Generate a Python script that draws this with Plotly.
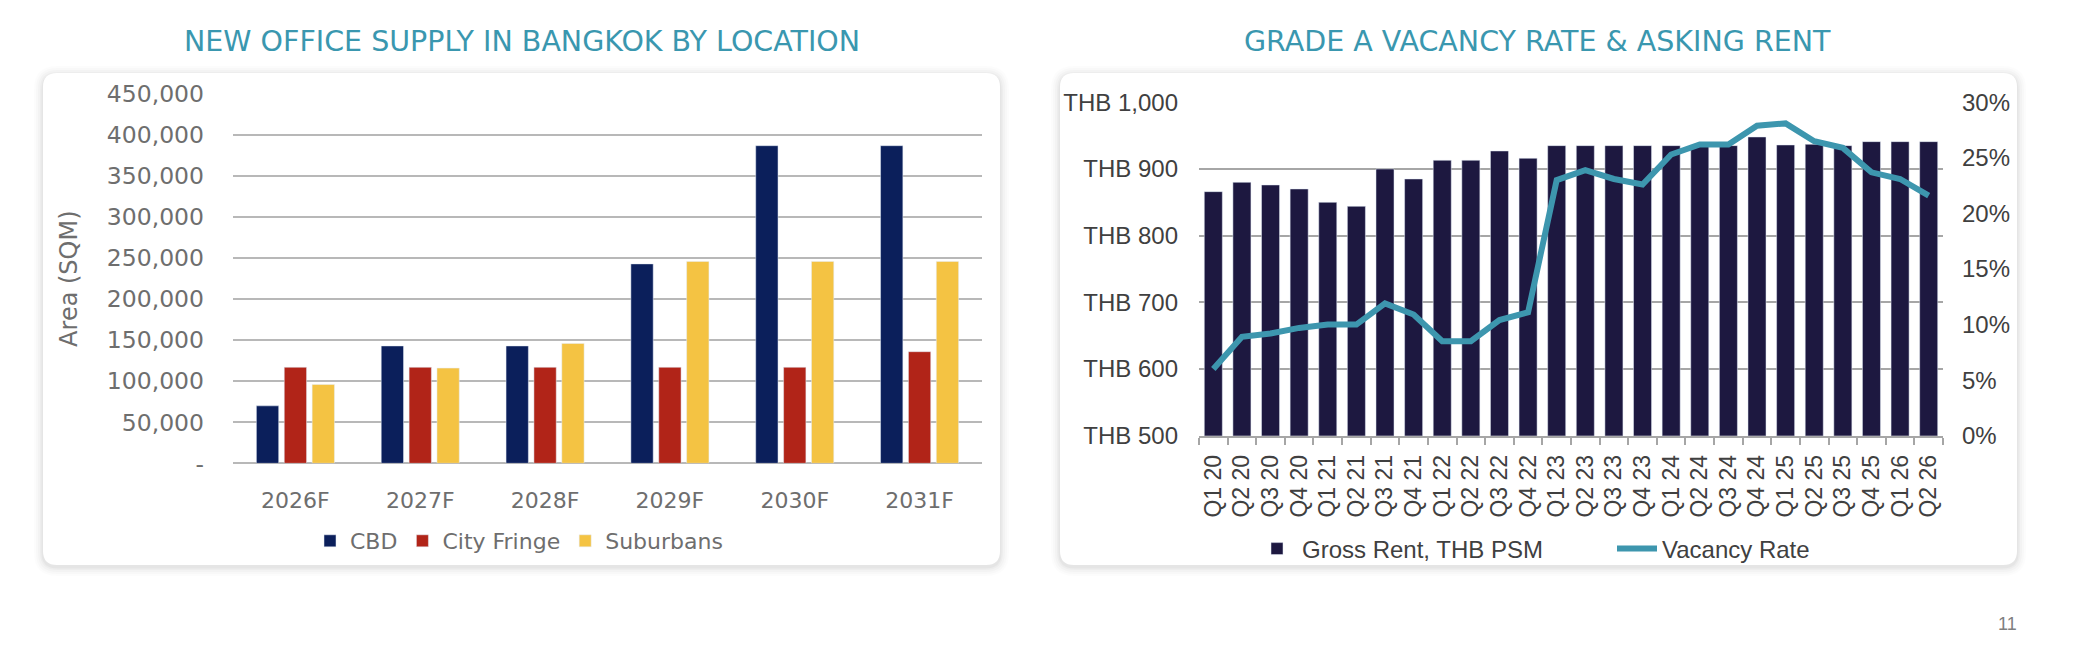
import plotly.graph_objects as go

W, H = 2074, 656

# ---------------- data ----------------
years = ["2026F", "2027F", "2028F", "2029F", "2030F", "2031F"]
cbd = [70000, 143000, 143000, 243000, 387000, 387000]
city_fringe = [117000, 117000, 117000, 117000, 117000, 136000]
suburbans = [96000, 116000, 146000, 246000, 246000, 246000]

supply_ticks = [0, 50000, 100000, 150000, 200000, 250000, 300000, 350000, 400000, 450000]
supply_ticktext = ["-", "50,000", "100,000", "150,000", "200,000", "250,000",
                   "300,000", "350,000", "400,000", "450,000"]

quarters = ["Q1 20", "Q2 20", "Q3 20", "Q4 20", "Q1 21", "Q2 21", "Q3 21", "Q4 21",
            "Q1 22", "Q2 22", "Q3 22", "Q4 22", "Q1 23", "Q2 23", "Q3 23", "Q4 23",
            "Q1 24", "Q2 24", "Q3 24", "Q4 24", "Q1 25", "Q2 25", "Q3 25", "Q4 25",
            "Q1 26", "Q2 26"]
gross_rent = [866, 880, 876, 870, 850, 844, 900, 885, 913, 913, 927, 916,
              935, 935, 935, 935, 935, 935, 935, 948, 936, 937, 935, 941, 941, 941]
vacancy_rate = [0.060, 0.089, 0.092, 0.097, 0.100, 0.100, 0.119, 0.109, 0.085, 0.085,
                0.104, 0.111, 0.230, 0.239, 0.231, 0.226, 0.253, 0.262, 0.262, 0.279,
                0.281, 0.265, 0.259, 0.237, 0.231, 0.216]

rent_ticks = [500, 600, 700, 800, 900, 1000]
rent_ticktext = ["THB 500", "THB 600", "THB 700", "THB 800", "THB 900", "THB 1,000"]
vac_ticks = [0, 0.05, 0.10, 0.15, 0.20, 0.25, 0.30]
vac_ticktext = ["0%", "5%", "10%", "15%", "20%", "25%", "30%"]

# ---------------- helpers ----------------
def fx(x):
    return x / W

def fy(y):
    return 1 - y / H

def rounded_path(x0, y0, x1, y1, r):
    rx, ry = r / W, r / H
    X0, X1 = fx(x0), fx(x1)
    Y0, Y1 = fy(y0), fy(y1)  # Y0 top, Y1 bottom
    return (f"M {X0+rx},{Y0} L {X1-rx},{Y0} Q {X1},{Y0} {X1},{Y0-ry} "
            f"L {X1},{Y1+ry} Q {X1},{Y1} {X1-rx},{Y1} "
            f"L {X0+rx},{Y1} Q {X0},{Y1} {X0},{Y1+ry} "
            f"L {X0},{Y0-ry} Q {X0},{Y0} {X0+rx},{Y0} Z")

LEFT_FONT = "DejaVu Sans"
RIGHT_FONT = "Liberation Sans, Arial"
GRAY_L = "#6E6E6E"
GRAY_R = "#404040"
TEAL = "#3A97AF"

fig = go.Figure()

# ---------------- left chart ----------------
fig.add_trace(go.Bar(x=years, y=cbd, name="CBD", marker_color="#0B1F5B",
                     xaxis="x", yaxis="y", legend="legend"))
fig.add_trace(go.Bar(x=years, y=city_fringe, name="City Fringe", marker_color="#B12418",
                     xaxis="x", yaxis="y", legend="legend"))
fig.add_trace(go.Bar(x=years, y=suburbans, name="Suburbans", marker_color="#F4C343",
                     xaxis="x", yaxis="y", legend="legend"))

# ---------------- right chart ----------------
fig.add_trace(go.Bar(x=quarters, y=gross_rent, name="Gross Rent, THB PSM",
                     marker_color="#1D1840", xaxis="x2", yaxis="y2", legend="legend2",
                     width=0.63))
fig.add_trace(go.Scatter(x=quarters, y=vacancy_rate, name="Vacancy Rate", mode="lines",
                         line=dict(color="#3D96AE", width=6), xaxis="x2", yaxis="y3",
                         legend="legend2"))

# ---------------- cards ----------------
shapes = []
for (x0, y0, x1, y1) in [(43, 73, 1000, 565), (1060, 73, 2017, 565)]:
    for k, a in [(9, 0.012), (7, 0.014), (5, 0.018), (3, 0.022), (1.5, 0.03)]:
        shapes.append(dict(type="path", xref="paper", yref="paper", layer="below",
                           path=rounded_path(x0 - k, y0 - k + 2, x1 + k, y1 + k + 2, 14 + k),
                           fillcolor=f"rgba(0,0,0,{a})", line=dict(width=0)))
    shapes.append(dict(type="path", xref="paper", yref="paper", layer="below",
                       path=rounded_path(x0, y0, x1, y1, 14),
                       fillcolor="#FFFFFF", line=dict(width=0)))

annotations = [
    dict(text="NEW OFFICE SUPPLY IN BANGKOK BY LOCATION", x=fx(522), y=fy(41),
         xref="paper", yref="paper", showarrow=False, xanchor="center", yanchor="middle",
         font=dict(family=LEFT_FONT, size=28.5, color=TEAL)),
    dict(text="GRADE A VACANCY RATE & ASKING RENT", x=fx(1537), y=fy(41),
         xref="paper", yref="paper", showarrow=False, xanchor="center", yanchor="middle",
         font=dict(family=LEFT_FONT, size=28.5, color=TEAL)),
    dict(text="11", x=fx(2007), y=fy(624), xref="paper", yref="paper", showarrow=False,
         xanchor="center", yanchor="middle",
         font=dict(family="Liberation Sans Narrow, Liberation Sans", size=18, color="#7F7F7F")),
]

fig.update_layout(
    width=W, height=H,
    autosize=False,
    margin=dict(l=0, r=0, t=0, b=0, pad=0, autoexpand=False),
    paper_bgcolor="#FFFFFF",
    plot_bgcolor="rgba(0,0,0,0)",
    barmode="group",
    bargap=0.33,
    bargroupgap=0.2,
    shapes=shapes,
    annotations=annotations,
    xaxis=dict(domain=[fx(233), fx(982)], anchor="y", type="category", automargin=False,
               showgrid=False, showline=False, ticks="", zeroline=False,
               tickfont=dict(family=LEFT_FONT, size=22, color=GRAY_L),
               ticklabelstandoff=22),
    yaxis=dict(domain=[fy(463.3), fy(94)], anchor="x", range=[0, 450000], automargin=False,
               tickvals=supply_ticks, ticktext=supply_ticktext,
               showgrid=True, gridcolor="#B8B8B8", gridwidth=2,
               zeroline=True, zerolinecolor="#B8B8B8", zerolinewidth=2,
               showline=False, ticks="",
               tickfont=dict(family=LEFT_FONT, size=23.5, color=GRAY_L),
               ticklabelstandoff=28,
               title=dict(text="Area (SQM)", standoff=22,
                          font=dict(family=LEFT_FONT, size=24, color=GRAY_L))),
    xaxis2=dict(domain=[fx(1199), fx(1943)], anchor="y2", type="category", automargin=False,
                showgrid=False, showline=True, linecolor="#A6A6A6", linewidth=2,
                ticks="outside", tickson="boundaries", ticklen=7, tickcolor="#A6A6A6",
                tickwidth=2, tickangle=-90,
                tickfont=dict(family=RIGHT_FONT, size=23, color=GRAY_R),
                ticklabelstandoff=8),
    yaxis2=dict(domain=[fy(435.7), fy(102.3)], anchor="x2", range=[500, 1000], automargin=False,
                tickvals=rent_ticks, ticktext=rent_ticktext,
                showgrid=True, gridcolor="#A6A6A6", gridwidth=1.5,
                zeroline=False, showline=False, ticks="",
                tickfont=dict(family=RIGHT_FONT, size=24, color=GRAY_R),
                ticklabelstandoff=20),
    yaxis3=dict(domain=[fy(435.7), fy(102.3)], anchor="x2", overlaying="y2", side="right",
                range=[0, 0.30], tickvals=vac_ticks, ticktext=vac_ticktext, automargin=False,
                showgrid=False, zeroline=False, showline=False, ticks="",
                tickfont=dict(family=RIGHT_FONT, size=24, color=GRAY_R),
                ticklabelstandoff=18),
    legend=dict(orientation="h", x=fx(310), y=fy(541), xanchor="left", yanchor="middle",
                font=dict(family=LEFT_FONT, size=22, color=GRAY_L),
                bgcolor="rgba(0,0,0,0)", itemwidth=30, traceorder="normal"),
    legend2=dict(orientation="h", x=fx(1252), y=fy(549), xanchor="left", yanchor="middle",
                 font=dict(family=RIGHT_FONT, size=24, color=GRAY_R),
                 bgcolor="rgba(0,0,0,0)", itemwidth=40, traceorder="normal",
                 entrywidth=305, entrywidthmode="pixels"),
)

fig.write_html("out.html")
